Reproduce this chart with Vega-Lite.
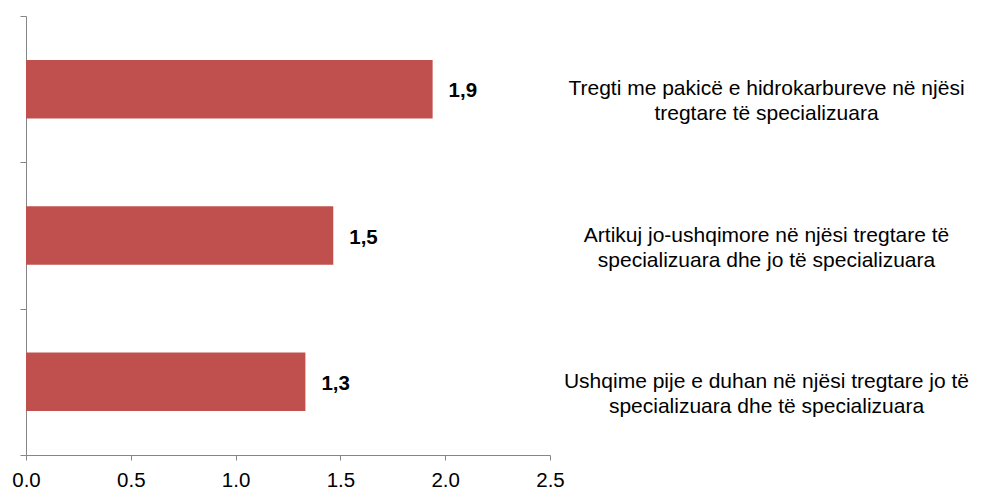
{
  "$schema": "https://vega.github.io/schema/vega-lite/v6.json",
  "width": 524,
  "height": 439,
  "autosize": {"type": "none"},
  "padding": {"left": 26, "top": 16, "right": 438, "bottom": 34},
  "background": "white",
  "config": {
    "view": {"stroke": null},
    "font": "Liberation Sans",
    "axis": {"grid": false, "domainColor": "#868686", "tickColor": "#868686", "labelColor": "#000000", "labelFont": "Liberation Sans"}
  },
  "data": {
    "values": [
      {"category": "Tregti me pakicë e hidrokarbureve në njësi|tregtare të specializuara", "value": 1.94, "label": "1,9"},
      {"category": "Artikuj jo-ushqimore në njësi tregtare të|specializuara dhe jo të specializuara", "value": 1.466, "label": "1,5"},
      {"category": "Ushqime pije e duhan në njësi tregtare  jo të|specializuara dhe të specializuara", "value": 1.333, "label": "1,3"}
    ]
  },
  "encoding": {
    "y": {
      "field": "category",
      "type": "nominal",
      "sort": null,
      "scale": {"paddingInner": 0, "paddingOuter": 0}
    }
  },
  "layer": [
    {
      "mark": {"type": "bar", "color": "#C0504D", "height": {"band": 0.4}},
      "encoding": {
        "x": {
          "field": "value",
          "type": "quantitative",
          "scale": {"domain": [0, 2.5], "nice": false},
          "axis": {
            "title": null,
            "values": [0, 0.5, 1, 1.5, 2, 2.5],
            "format": ".1f",
            "tickSize": 5,
            "labelPadding": 10,
            "labelFontSize": 20.5,
            "labelFlush": false
          }
        },
        "y": {
          "field": "category",
          "type": "nominal",
          "sort": null,
          "axis": {"title": null, "labels": false, "tickSize": 6, "tickBand": "extent", "orient": "left"}
        }
      }
    },
    {
      "mark": {"type": "text", "align": "left", "baseline": "middle", "dx": 16, "dy": 2, "fontSize": 20.5, "fontWeight": "bold", "color": "#000000"},
      "encoding": {
        "x": {"field": "value", "type": "quantitative"},
        "y": {
          "field": "category",
          "type": "nominal",
          "sort": null,
          "axis": {
            "title": null,
            "orient": "right",
            "domain": false,
            "ticks": false,
            "tickSize": 0,
            "labelPadding": 216,
            "labelAlign": "center",
            "labelBaseline": "middle",
            "labelFontSize": 21,
            "labelLineHeight": 25,
            "labelLimit": 0,
            "labelExpr": "split(datum.label, '|')"
          }
        },
        "text": {"field": "label"}
      }
    }
  ],
  "resolve": {"axis": {"y": "independent"}}
}
